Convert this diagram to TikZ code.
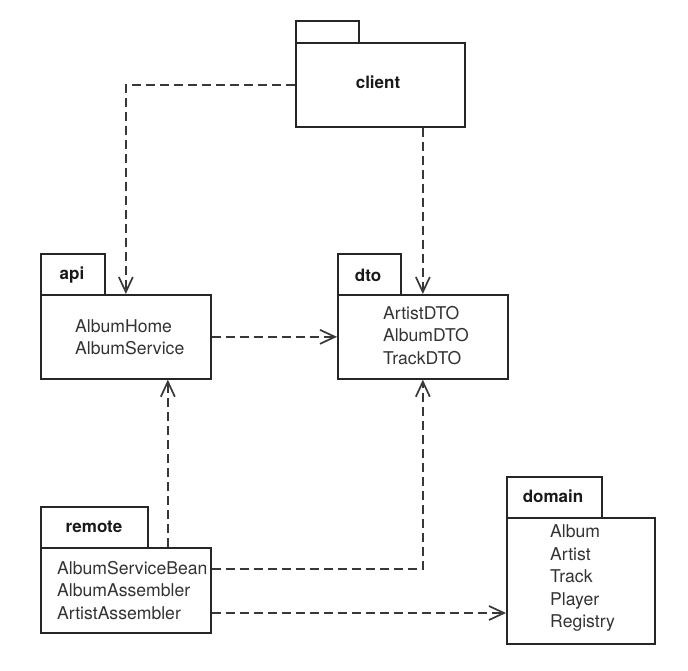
\documentclass[tikz,border=0pt]{standalone}
\usepackage{fontspec}
\setmainfont{TeX Gyre Heros}
\usetikzlibrary{arrows.meta,calc}
\begin{document}
\begin{tikzpicture}[x=1pt,y=-1pt,
 box/.style={draw=black!85,line width=1.7pt,rectangle,inner sep=0pt,anchor=north west},
 lbl/.style={font=\fontsize{17}{20}\selectfont\bfseries,inner sep=0pt,text=black!90},
 items/.style={font=\fontsize{17.6}{22.5}\selectfont,align=left,anchor=west,inner sep=0pt,text=black!80},
 dep/.style={draw=black!78,line width=1.7pt,dash pattern=on 9pt off 5pt,
   -{Straight Barb[length=15pt,width=14pt,line width=1.7pt]}}]
\useasboundingbox (0,0) rectangle (688,671);
% client
\node[box,minimum width=63pt,minimum height=22pt] (clienttab) at (295,20) {};
\node[box,minimum width=169pt,minimum height=84pt] (client) at (295,42) {};
\node[lbl] (clientlbl) at (378,82) {client};
% api
\node[box,minimum width=64pt,minimum height=41pt] (apitab) at (40,253) {};
\node[box,minimum width=170pt,minimum height=84pt] (api) at (40,294) {};
\node[lbl] (apilbl) at (72,275) {api};
\node[items] (apiitems) at (75,337) {AlbumHome\\AlbumService};
% dto
\node[box,minimum width=63pt,minimum height=41pt] (dtotab) at (337,253) {};
\node[box,minimum width=170pt,minimum height=84pt] (dto) at (337,294) {};
\node[lbl] (dtolbl) at (368,275) {dto};
\node[items] (dtoitems) at (383,335.5) {ArtistDTO\\AlbumDTO\\TrackDTO};
% remote
\node[box,minimum width=107pt,minimum height=41pt] (remotetab) at (40,506) {};
\node[box,minimum width=170pt,minimum height=85pt] (remote) at (40,547) {};
\node[lbl] (remotelbl) at (94,527) {remote};
\node[items] (remoteitems) at (57,590.5) {AlbumServiceBean\\AlbumAssembler\\ArtistAssembler};
% domain
\node[box,minimum width=95pt,minimum height=41pt] (domaintab) at (506,476) {};
\node[box,minimum width=148pt,minimum height=126pt] (domain) at (506,517) {};
\node[lbl] (domainlbl) at (553,496) {domain};
\node[items] (domainitems) at (550,578) {Album\\Artist\\Track\\Player\\Registry};
% connectors
\coordinate (ra) at ([xshift=42pt]api.south);
\coordinate (asb) at (0,569);
\coordinate (aa) at (0,613);
\draw[dep] (client.west) -| (api.north);
\draw[dep] (dto.north |- client.south) -- (dto.north);
\draw[dep] (api.east) -- (dto.west);
\draw[dep] (ra |- remote.north) -- (ra);
\draw[dep] (remote.east |- asb) -| (dto.south);
\draw[dep] (remote.east |- aa) -- (domain.west |- aa);
\end{tikzpicture}
\end{document}
